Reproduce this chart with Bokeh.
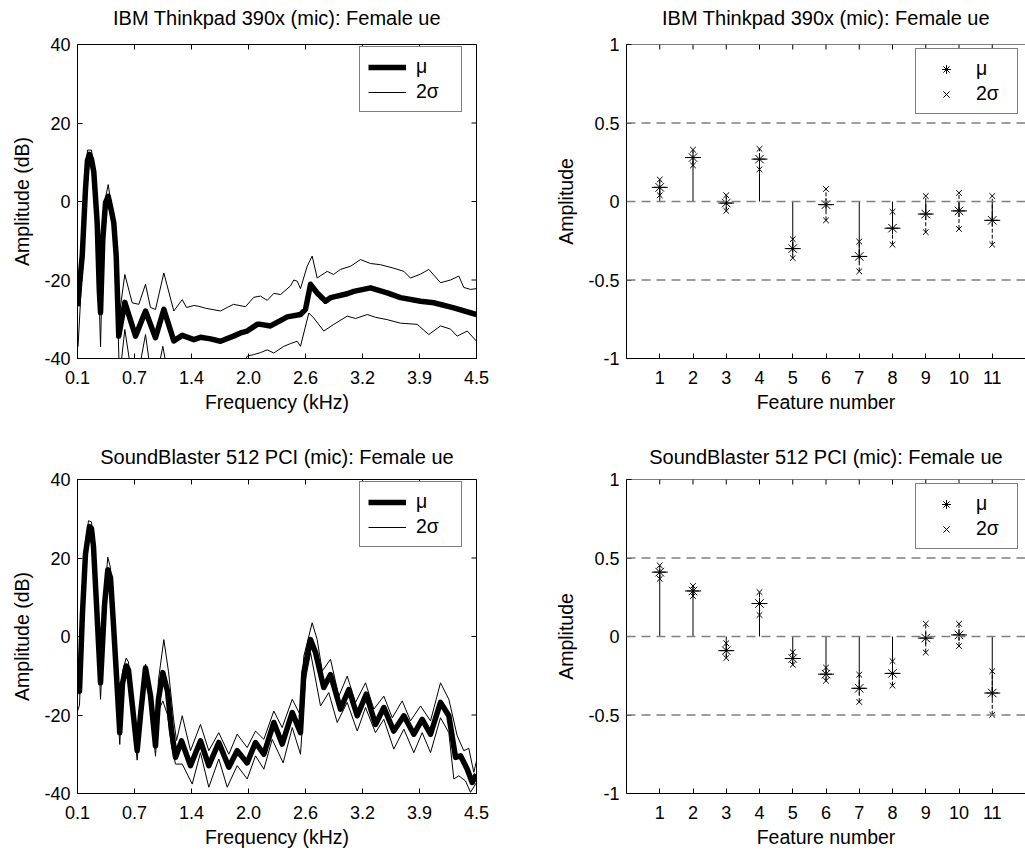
import numpy as np
from bokeh.plotting import figure
from bokeh.layouts import column, row
from bokeh.models import Range1d, FixedTicker, Legend, LegendItem, Span, LinearAxis
from bokeh.embed import file_html
from bokeh.resources import INLINE

FONT = "Liberation Sans"
TICK_LEN = 5  # inward tick length, px

# ---------------------------------------------------------------- labels
titles = ["IBM Thinkpad 390x (mic): Female ue",
          "SoundBlaster 512 PCI (mic): Female ue"]
freq_tick_labels = ["0.1", "0.7", "1.4", "2.0", "2.6", "3.2", "3.9", "4.5"]
db_ticks = [-40, -20, 0, 20, 40]
amp_ticks = [-1, -0.5, 0, 0.5, 1]
features = list(range(1, 12))

# ---------------------------------------------------------------- spectra (kHz, dB)
# IBM Thinkpad 390x: mean
ibm_mu_f = [0.100, 0.152, 0.188, 0.210, 0.232, 0.254, 0.280, 0.317, 0.340, 0.354,
            0.379, 0.409, 0.439, 0.475, 0.500, 0.527, 0.555, 0.622, 0.740, 0.850,
            0.960, 1.052, 1.162, 1.255, 1.383, 1.456, 1.567, 1.677, 1.820, 1.898,
            1.971, 2.082, 2.118, 2.228, 2.357, 2.413, 2.559, 2.614, 2.670, 2.743,
            2.835, 2.890, 2.927, 3.074, 3.147, 3.331, 3.515, 3.662, 3.883, 4.029,
            4.250, 4.500]
ibm_mu_db = [-26.7, -13.9, 3.1, 10.5, 12.0, 10.8, 7.5, -5.4, -22.4, -28.3,
             -9.7, -0.3, 1.3, -2.5, -5.4, -13.9, -34.3, -25.7, -34.3, -27.9,
             -34.7, -27.5, -35.5, -34.1, -35.2, -34.6, -35.0, -35.6, -34.3, -33.5,
             -33.0, -31.3, -31.3, -31.7, -30.1, -29.4, -28.8, -27.5, -21.1, -23.3,
             -25.4, -24.5, -24.3, -23.5, -22.9, -22.0, -23.3, -24.5, -25.4, -25.8,
             -27.1, -28.8]
# IBM Thinkpad 390x: upper 2-sigma
ibm_hi_f = [0.100, 0.152, 0.188, 0.210, 0.254, 0.280, 0.317, 0.354, 0.379, 0.409,
            0.439, 0.475, 0.500, 0.527, 0.555, 0.622, 0.703, 0.776, 0.850, 0.905,
            0.960, 1.052, 1.162, 1.255, 1.302, 1.383, 1.438, 1.512, 1.585, 1.677,
            1.751, 1.820, 1.953, 2.044, 2.118, 2.192, 2.265, 2.339, 2.449, 2.485,
            2.523, 2.559, 2.633, 2.688, 2.743, 2.780, 2.854, 2.923, 3.000, 3.111,
            3.221, 3.331, 3.442, 3.588, 3.699, 3.772, 3.883, 3.974, 4.103, 4.213,
            4.305, 4.360, 4.434, 4.500]
ibm_hi_db = [-26.0, -12.5, 4.5, 13.1, 13.1, 8.5, -4.0, -27.0, -8.0, 1.0,
             4.3, -1.5, -4.5, -12.5, -30.0, -18.6, -25.8, -26.2, -21.1, -27.0,
             -27.5, -18.2, -27.9, -25.0, -27.0, -26.5, -26.7, -27.2, -27.5, -27.9,
             -27.0, -26.2, -26.8, -24.4, -24.1, -25.2, -23.4, -23.7, -21.5, -20.0,
             -20.3, -22.2, -16.5, -13.9, -19.5, -18.9, -17.8, -18.6, -17.3, -16.5,
             -14.8, -15.8, -16.1, -17.0, -17.8, -19.5, -18.5, -17.3, -20.7, -20.0,
             -19.0, -21.9, -22.4, -22.2]
# IBM Thinkpad 390x: lower 2-sigma
ibm_lo_f = [0.106, 0.155, 0.188, 0.232, 0.276, 0.317, 0.354, 0.379, 0.409, 0.439,
            0.475, 0.500, 0.527, 0.563, 0.622, 0.696, 0.762, 0.850, 0.916, 0.971,
            1.041, 1.104, 1.236, 1.456, 1.677, 1.898, 1.971, 2.044, 2.118, 2.192,
            2.265, 2.375, 2.449, 2.523, 2.559, 2.651, 2.706, 2.816, 2.927, 3.074,
            3.166, 3.295, 3.386, 3.515, 3.662, 3.846, 3.974, 4.103, 4.213, 4.287,
            4.398, 4.500]
ibm_lo_db = [-37.0, -16.0, 1.0, 10.5, 6.0, -7.0, -37.0, -12.0, -3.0, -0.5,
             -4.5, -8.0, -16.0, -45.0, -32.6, -44.0, -45.0, -33.9, -45.0, -45.0,
             -36.9, -45.0, -47.0, -48.0, -46.0, -43.0, -39.4, -39.0, -38.5, -37.8,
             -38.6, -36.9, -36.2, -35.6, -36.9, -28.4, -29.7, -33.0, -31.3, -29.2,
             -29.8, -28.8, -29.5, -30.1, -31.0, -31.3, -33.9, -31.7, -32.5, -34.3,
             -33.0, -35.6]

# SoundBlaster 512 PCI: mean
sb_mu_f = [0.100, 0.122, 0.155, 0.188, 0.232, 0.254, 0.276, 0.310, 0.354, 0.398,
           0.434, 0.464, 0.497, 0.530, 0.566, 0.596, 0.637, 0.662, 0.707, 0.758,
           0.795, 0.850, 0.905, 0.960, 0.993, 1.041, 1.093, 1.137, 1.181, 1.247,
           1.346, 1.456, 1.548, 1.658, 1.769, 1.861, 1.971, 2.063, 2.155, 2.265,
           2.357, 2.468, 2.559, 2.596, 2.670, 2.725, 2.816, 2.890, 3.000, 3.092,
           3.185, 3.284, 3.386, 3.478, 3.588, 3.699, 3.809, 3.901, 3.993, 4.103,
           4.195, 4.269, 4.324, 4.398, 4.453, 4.500]
sb_mu_db = [-14.3, -13.9, 6.0, 21.0, 28.0, 27.5, 23.0, 8.0, -11.8, 8.0,
            17.0, 15.0, 3.0, -10.0, -24.5, -12.0, -7.5, -8.5, -18.0, -29.1,
            -20.0, -8.0, -15.0, -27.9, -16.0, -9.2, -14.0, -24.0, -30.8, -26.6,
            -32.9, -26.6, -32.9, -27.0, -33.3, -29.1, -32.2, -27.0, -30.0, -21.9,
            -27.4, -19.4, -24.5, -9.2, -0.8, -4.1, -13.0, -9.7, -18.5, -13.5,
            -20.2, -14.7, -22.4, -18.1, -24.1, -20.2, -24.9, -21.1, -24.9, -16.8,
            -20.2, -30.8, -30.4, -33.8, -37.2, -35.1]
# SoundBlaster 512 PCI: upper 2-sigma
sb_hi_f = [0.100, 0.122, 0.155, 0.188, 0.221, 0.254, 0.276, 0.310, 0.354, 0.398,
           0.434, 0.464, 0.497, 0.530, 0.566, 0.596, 0.637, 0.662, 0.707, 0.758,
           0.795, 0.850, 0.905, 0.960, 0.993, 1.052, 1.104, 1.159, 1.192, 1.255,
           1.346, 1.456, 1.548, 1.658, 1.769, 1.861, 1.971, 2.063, 2.155, 2.265,
           2.357, 2.468, 2.552, 2.596, 2.688, 2.743, 2.799, 2.890, 2.982, 3.074,
           3.166, 3.276, 3.368, 3.478, 3.571, 3.681, 3.772, 3.883, 3.993, 4.103,
           4.195, 4.287, 4.360, 4.415, 4.470, 4.500]
sb_hi_db = [-12.5, -11.0, 9.0, 23.0, 29.5, 29.2, 24.5, 10.0, -9.0, 10.5,
            20.2, 17.5, 5.0, -8.0, -22.0, -9.0, -5.5, -6.5, -16.0, -27.0,
            -18.0, -7.0, -13.0, -25.5, -11.0, -0.8, -9.0, -21.0, -26.5, -20.2,
            -29.1, -22.4, -29.1, -24.5, -30.0, -24.9, -28.3, -24.1, -26.2, -19.0,
            -23.2, -16.0, -19.8, -5.0, 3.5, -0.8, -8.8, -5.8, -15.2, -10.1,
            -16.8, -11.8, -18.5, -15.2, -20.7, -16.4, -21.5, -17.7, -21.5, -11.8,
            -16.0, -25.3, -29.1, -28.5, -34.6, -31.7]
# SoundBlaster 512 PCI: lower 2-sigma
sb_lo_f = [0.100, 0.122, 0.155, 0.188, 0.221, 0.254, 0.276, 0.310, 0.354, 0.398,
           0.434, 0.464, 0.497, 0.530, 0.566, 0.596, 0.637, 0.662, 0.707, 0.758,
           0.795, 0.850, 0.905, 0.960, 0.993, 1.041, 1.093, 1.137, 1.181, 1.255,
           1.365, 1.456, 1.548, 1.658, 1.751, 1.861, 1.971, 2.063, 2.155, 2.247,
           2.368, 2.468, 2.559, 2.614, 2.670, 2.780, 2.871, 2.964, 3.074, 3.185,
           3.276, 3.386, 3.478, 3.588, 3.699, 3.809, 3.901, 3.993, 4.103, 4.195,
           4.250, 4.305, 4.379, 4.434, 4.500]
sb_lo_db = [-19.0, -17.5, 3.5, 19.5, 27.3, 26.3, 21.0, 6.0, -16.0, 5.5,
            15.3, 13.0, 0.0, -13.0, -27.5, -14.0, -9.0, -10.0, -20.0, -31.5,
            -22.0, -9.5, -17.0, -30.5, -19.0, -16.4, -20.0, -28.0, -32.5, -32.5,
            -37.6, -29.6, -38.4, -31.2, -38.4, -32.9, -36.3, -30.4, -33.8, -26.2,
            -32.2, -23.2, -30.0, -10.9, -4.1, -17.7, -14.3, -21.9, -16.8, -24.1,
            -18.1, -24.5, -21.1, -28.7, -23.6, -29.6, -24.5, -29.6, -20.7, -24.5,
            -36.3, -35.5, -36.8, -39.7, -37.2]

# ---------------------------------------------------------------- features (mean, 2 sigma)
ibm_feat_mu = [0.09, 0.28, -0.01, 0.27, -0.30, -0.02, -0.35, -0.17, -0.08, -0.06, -0.12]
ibm_feat_2s = [0.05, 0.05, 0.05, 0.065, 0.06, 0.10, 0.095, 0.105, 0.115, 0.115, 0.155]
sb_feat_mu = [0.41, 0.29, -0.09, 0.21, -0.14, -0.24, -0.33, -0.235, -0.01, 0.01, -0.36]
sb_feat_2s = [0.043, 0.032, 0.047, 0.073, 0.04, 0.042, 0.087, 0.078, 0.092, 0.071, 0.139]


def style_axis(ax, ticks, overrides, label, label_standoff, tick_standoff):
    ax.ticker = FixedTicker(ticks=list(ticks))
    ax.major_label_overrides = overrides
    ax.major_tick_in = TICK_LEN
    ax.major_tick_out = 0
    ax.minor_tick_line_color = None
    ax.axis_line_color = "black"
    ax.major_tick_line_color = "black"
    ax.major_label_text_font = FONT
    ax.major_label_text_color = "black"
    ax.major_label_text_font_size = "18px"
    ax.major_label_standoff = tick_standoff
    ax.axis_label = label
    ax.axis_label_standoff = label_standoff
    ax.axis_label_text_font = FONT
    ax.axis_label_text_font_size = "19.5px"
    ax.axis_label_text_font_style = "normal"
    ax.axis_label_text_color = "black"


def add_title(p, text, gap):
    """Panel title: the label of a tickless axis above the box."""
    ax = LinearAxis(ticker=FixedTicker(ticks=[]), axis_label=text)
    ax.axis_line_color = None
    ax.major_tick_line_color = None
    ax.minor_tick_line_color = None
    ax.major_tick_out = 0
    ax.major_tick_in = 0
    ax.major_label_standoff = 0
    ax.axis_label_standoff = gap
    ax.axis_label_text_font = FONT
    ax.axis_label_text_font_size = "20px"
    ax.axis_label_text_font_style = "normal"
    ax.axis_label_text_color = "black"
    p.add_layout(ax, "above")


def box_ticks(p, xticks, yticks, x_range, y_range, frame_w, frame_h, right=True):
    """Inward tick marks on the top (and optionally right) edge of the box."""
    x0, x1 = x_range
    y0, y1 = y_range
    dy = TICK_LEN * (y1 - y0) / frame_h
    xt = np.asarray(xticks, dtype=float)
    p.segment(x0=xt, y0=np.full(len(xt), y1), x1=xt, y1=np.full(len(xt), y1 - dy),
              line_color="black", line_width=1)
    if right:
        yt = np.asarray(yticks, dtype=float)
        dx = TICK_LEN * (x1 - x0) / frame_w
        p.segment(x0=np.full(len(yt), x1), y0=yt, x1=np.full(len(yt), x1 - dx), y1=yt,
                  line_color="black", line_width=1)


def make_legend(items, loc, glyph_width, standoff, label_width):
    lg = Legend(items=items, location=loc, margin=0)
    lg.border_line_color = "black"
    lg.border_line_width = 1
    lg.background_fill_color = "white"
    lg.background_fill_alpha = 1.0
    lg.label_text_font = FONT
    lg.label_text_font_size = "19.5px"
    lg.label_text_color = "black"
    lg.padding = 8
    lg.spacing = 2
    lg.glyph_width = glyph_width
    lg.glyph_height = 22
    lg.label_height = 22
    lg.label_width = label_width
    lg.label_standoff = standoff
    return lg


def spectrum_panel(title, mu_f, mu_db, hi_f, hi_db, lo_f, lo_db,
                   height, top, bottom, title_gap):
    xr, yr = (0.1, 4.5), (-40, 40)
    p = figure(width=540, height=height, x_range=Range1d(*xr), y_range=Range1d(*yr),
               output_backend="svg", toolbar_location=None,
               min_border_left=77, min_border_right=64,
               min_border_top=top, min_border_bottom=bottom,
               background_fill_color="white", border_fill_color="white")
    p.grid.visible = False
    p.outline_line_color = "black"

    xt = np.linspace(0.1, 4.5, len(freq_tick_labels))
    style_axis(p.below[0], xt, {float(t): s for t, s in zip(xt, freq_tick_labels)},
               "Frequency (kHz)", 4, 12)
    style_axis(p.left[0], db_ticks, {t: str(t) for t in db_ticks},
               "Amplitude (dB)", 8, 7)
    add_title(p, title, title_gap)
    box_ticks(p, xt, db_ticks, xr, yr, 540 - 77 - 64, height - top - bottom)

    r_hi = p.line(hi_f, hi_db, line_color="black", line_width=1)
    p.line(lo_f, lo_db, line_color="black", line_width=1)
    r_mu = p.line(mu_f, mu_db, line_color="black", line_width=5.5, line_join="round")

    lg = make_legend([LegendItem(label="\u03bc", renderers=[r_mu]),
                      LegendItem(label="2\u03c3", renderers=[r_hi])],
                     (282, 246), 38, 10, 37)
    p.add_layout(lg)
    return p


def feature_panel(title, mu, two_sigma, height, top, bottom, title_gap):
    xr, yr = (0, 12), (-1, 1)
    p = figure(width=485, height=height, x_range=Range1d(*xr), y_range=Range1d(*yr),
               output_backend="svg", toolbar_location=None,
               min_border_left=86, min_border_right=0,
               min_border_top=top, min_border_bottom=bottom,
               background_fill_color="white", border_fill_color="white")
    p.grid.visible = False
    p.outline_line_color = None

    style_axis(p.below[0], features, {t: str(t) for t in features},
               "Feature number", 4, 12)
    style_axis(p.left[0], amp_ticks, {-1: "-1", -0.5: "-0.5", 0: "0", 0.5: "0.5", 1: "1"},
               "Amplitude", 8, 7)
    add_title(p, title, title_gap)

    # top edge of the box and its ticks
    p.add_layout(Span(location=yr[1], dimension="width", line_color="black", line_width=1))
    box_ticks(p, features, amp_ticks, xr, yr, 485 - 86, height - top - bottom, right=False)

    for level in (0.5, 0.0, -0.5):
        p.add_layout(Span(location=level, dimension="width", line_color="#808080",
                          line_width=1.3, line_dash="9 6"))

    mu = np.array(mu)
    s2 = np.array(two_sigma)
    hi = mu + s2
    lo = mu - s2
    p.segment(x0=features, y0=np.zeros(len(mu)), x1=features, y1=mu,
              line_color="black", line_width=1)
    p.segment(x0=features, y0=lo, x1=features, y1=hi,
              line_color="black", line_width=1, line_dash="4 2")
    p.scatter(features, mu, marker="dash", size=16, line_color="black", line_width=1)
    r_mu = p.scatter(features, mu, marker="asterisk", size=12,
                     line_color="black", line_width=1)
    r_s = p.scatter(features + features, np.concatenate([hi, lo]), marker="x", size=8,
                    line_color="black", line_width=1)

    lg = make_legend([LegendItem(label="\u03bc", renderers=[r_mu]),
                      LegendItem(label="2\u03c3", renderers=[r_s])],
                     (289, 244), 44, 8, 33)
    p.add_layout(lg)
    return p


p1 = spectrum_panel(titles[0], ibm_mu_f, ibm_mu_db, ibm_hi_f, ibm_hi_db,
                    ibm_lo_f, ibm_lo_db, 430, 44, 72, 16)
p2 = feature_panel(titles[0], ibm_feat_mu, ibm_feat_2s, 430, 44, 72, 16)
p3 = spectrum_panel(titles[1], sb_mu_f, sb_mu_db, sb_hi_f, sb_hi_db,
                    sb_lo_f, sb_lo_db, 424, 48, 61, 12)
p4 = feature_panel(titles[1], sb_feat_mu, sb_feat_2s, 424, 49, 61, 12)

layout = column(row(p1, p2), row(p3, p4))

html = file_html(layout, INLINE, title="Spectra and features")
html = html.replace("<body>", '<body style="margin:0">', 1)
open("out.html", "w").write(html)
